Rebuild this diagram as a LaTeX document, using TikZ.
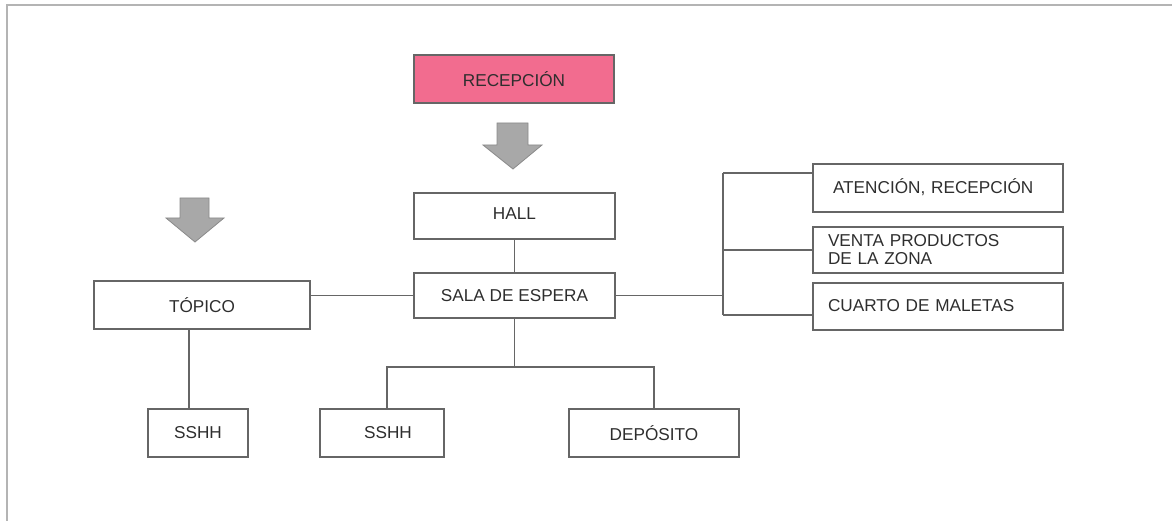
\documentclass[tikz,border=0pt]{standalone}
\usepackage{fontspec}
\setmainfont{Liberation Sans}
\definecolor{linegray}{HTML}{666666}
\definecolor{framegray}{HTML}{B4B4B4}
\definecolor{pinkfill}{HTML}{F26C8F}
\definecolor{arrowfill}{HTML}{A8A8A8}
\definecolor{arrowline}{HTML}{8A8A8A}
\definecolor{txt}{HTML}{2E2E2E}
\begin{document}
\begin{tikzpicture}[x=1pt,y=-1pt,
  box/.style={draw=linegray, line width=1.2pt, rectangle, inner sep=0pt, text=txt,
    font=\fontsize{17.2}{20}\selectfont},
  lbox/.style={box, text width=#1, align=left, inner xsep=15pt},
  conn/.style={draw=linegray, line width=1.2pt},
  bigarrow/.style={fill=arrowfill, draw=arrowline, line width=0.8pt, line join=miter}
]
\useasboundingbox (0,0) rectangle (1172,521);
% outer frame
\draw[framegray, line width=2pt] (7,521) -- (7,5) -- (1172,5);

% nodes
\node[box, fill=pinkfill, minimum width=200pt, minimum height=48pt] (recep) at (514,79) {RECEPCIÓN};
\node[box, minimum width=201pt, minimum height=46pt] (hall) at (514.5,216) {\raisebox{4pt}{HALL}};
\node[box, minimum width=201pt, minimum height=45pt] (sala) at (514.5,295.5) {\raisebox{-3pt}{SALA DE ESPERA}};
\node[box, minimum width=216pt, minimum height=48pt] (topico) at (202,305) {TÓPICO};
\node[box, minimum width=100pt, minimum height=48pt] (sshhL) at (198,433) {SSHH};
\node[box, minimum width=124pt, minimum height=48pt] (sshhM) at (382,433) {\hspace*{12pt}SSHH};
\node[box, minimum width=170pt, minimum height=48pt] (depo) at (654,433) {DEPÓSITO};
\node[lbox=220pt, minimum width=250pt, minimum height=48pt] (aten) at (938,188) {\raisebox{3pt}{\hspace*{5pt}ATENCIÓN, RECEPCIÓN}};
\node[lbox=220pt, minimum width=250pt, minimum height=46pt] (venta) at (938,250) {VENTA PRODUCTOS\\[-2pt]DE LA ZONA};
\node[lbox=220pt, minimum width=250pt, minimum height=47pt] (cuarto) at (938,306.5) {\raisebox{2pt}{CUARTO DE MALETAS}};

% big arrows
\draw[bigarrow] (497,123) -- (528,123) -- (528,145) -- (542,145) -- (513,169) -- (483,145) -- (497,145) -- cycle;
\draw[bigarrow] (180,198) -- (209,198) -- (209,218) -- (224,218) -- (195,242) -- (166,218) -- (180,218) -- cycle;

% connectors
\coordinate (bj) at (514.5,367);
\coordinate (bt) at (723,173);
\coordinate (bb) at (723,315);
\draw[conn] (hall.south) -- (sala.north);
\draw[conn] (sala.west) -- (sala.west -| topico.east);
\draw[conn] ([xshift=-13pt]topico.south) -- ([xshift=-9pt]sshhL.north);
\draw[conn] (sala.south) -- (bj);
\draw[conn] ([xshift=5pt]sshhM.north) |- (bj) -| (depo.north);
\draw[conn] (sala.east) -- (sala.east -| bt);
\draw[conn] (bt) -- (bb);
\draw[conn] (bt) -- (bt -| aten.west);
\draw[conn] (venta.west) -- (venta.west -| bt);
\draw[conn] (bb) -- (bb -| cuarto.west);
\end{tikzpicture}
\end{document}
